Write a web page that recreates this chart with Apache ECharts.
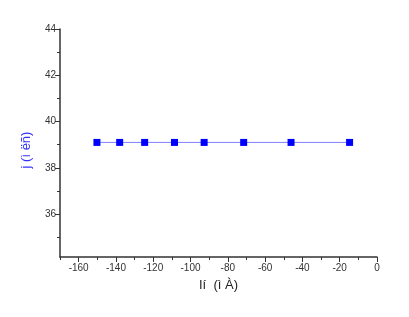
<!DOCTYPE html>
<html><head><meta charset="utf-8">
<script src="https://cdn.jsdelivr.net/npm/echarts@6/dist/echarts.min.js"></script>
<style>html,body{margin:0;padding:0;background:#fff}#c{width:409px;height:317px}</style>
</head><body><div id="c"></div>
<script>
const xValues = [-150.2, -138, -124.6, -108.6, -92.7, -71.5, -46.1, -14.7];
const yValues = [39.1, 39.1, 39.1, 39.1, 39.1, 39.1, 39.1, 39.1];
const xMajorTicks = [-160, -140, -120, -100, -80, -60, -40, -20, 0];
const xMinorTicks = [-170, -150, -130, -110, -90, -70, -50, -30, -10];
const yMajorTicks = [36, 38, 40, 42, 44];
const yMinorTicks = [35, 37, 39, 41, 43];
const xName = 'Ií  (ì À)';
const yName = 'j (ì ëñ)';

const chart = echarts.init(document.getElementById('c'));
const axisColor = '#333';
const font = 'Liberation Sans, Arial, sans-serif';
const rect = {left: 60, right: 32, top: 29, bottom: 60};
chart.setOption({
  animation: false,
  grid: [Object.assign({}, rect), Object.assign({}, rect)],
  xAxis: [{
    gridIndex: 0, type: 'value', min: -170, max: 0,
    name: xName, nameLocation: 'middle', nameGap: 22,
    nameTextStyle: {color: '#222', fontSize: 13, fontFamily: font},
    axisLine: {show: true, onZero: false, lineStyle: {color: axisColor, width: 1.5}},
    axisTick: {show: true, customValues: xMajorTicks, length: 5, lineStyle: {color: axisColor}},
    axisLabel: {customValues: xMajorTicks, color: '#333', fontSize: 10, fontFamily: font, margin: 6},
    splitLine: {show: false}
  }, {
    gridIndex: 1, type: 'value', min: -170, max: 0, position: 'bottom',
    axisLine: {show: false, onZero: false},
    axisTick: {show: true, customValues: xMinorTicks, length: 3, lineStyle: {color: axisColor}},
    axisLabel: {show: false},
    splitLine: {show: false}
  }],
  yAxis: [{
    gridIndex: 0, type: 'value', min: 34.15, max: 44,
    name: yName, nameLocation: 'middle', nameGap: 27, nameRotate: 90,
    nameTextStyle: {color: '#3333ff', fontSize: 13, fontFamily: font, padding: [0, 14, 0, 0]},
    axisLine: {show: true, onZero: false, lineStyle: {color: axisColor, width: 1.5}},
    axisTick: {show: true, customValues: yMajorTicks, length: 5, lineStyle: {color: axisColor}},
    axisLabel: {customValues: yMajorTicks, color: '#333', fontSize: 10, fontFamily: font, margin: 4},
    splitLine: {show: false}
  }, {
    gridIndex: 1, type: 'value', min: 34.15, max: 44, position: 'left',
    axisLine: {show: false, onZero: false},
    axisTick: {show: true, customValues: yMinorTicks, length: 3, lineStyle: {color: axisColor}},
    axisLabel: {show: false},
    splitLine: {show: false}
  }],
  series: [{
    type: 'line', xAxisIndex: 0, yAxisIndex: 0,
    data: xValues.map((x, i) => [x, yValues[i]]),
    symbol: 'rect', symbolSize: 7,
    itemStyle: {color: '#0000ff'},
    lineStyle: {color: '#8080ff', width: 1}
  }]
});
</script></body></html>
